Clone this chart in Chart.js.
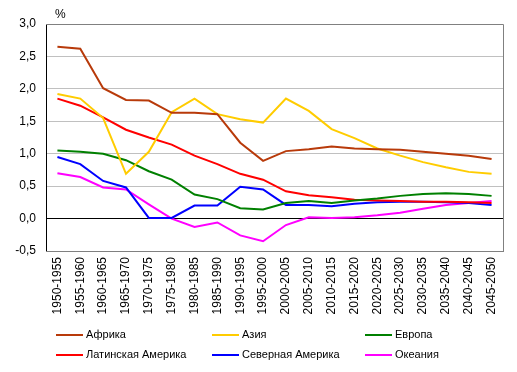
<!DOCTYPE html>
<html>
<head>
<meta charset="utf-8">
<script src="https://cdn.jsdelivr.net/npm/chart.js@4"></script>
<style>
    html, body { margin: 0; padding: 0; background: #fff; }
    #wrap { width: 517px; height: 372px; }
</style>
</head>
<body>
<div id="wrap"><canvas id="growthChart" width="517" height="372"></canvas></div>
<script>
const periods = ['1950-1955', '1955-1960', '1960-1965', '1965-1970', '1970-1975', '1975-1980', '1980-1985',
    '1985-1990', '1990-1995', '1995-2000', '2000-2005', '2005-2010', '2010-2015', '2015-2020', '2020-2025',
    '2025-2030', '2030-2035', '2035-2040', '2040-2045', '2045-2050'];

const africa = [2.65, 2.62, 2.01, 1.83, 1.82, 1.63, 1.63, 1.61, 1.17, 0.89, 1.04, 1.07, 1.11, 1.08, 1.07, 1.06, 1.03, 1.00, 0.97, 0.92];
const asia = [1.92, 1.85, 1.55, 0.69, 1.03, 1.64, 1.85, 1.61, 1.53, 1.48, 1.85, 1.66, 1.38, 1.24, 1.08, 0.97, 0.87, 0.79, 0.72, 0.69];
const europe = [1.05, 1.03, 1.00, 0.90, 0.73, 0.60, 0.37, 0.30, 0.16, 0.14, 0.24, 0.27, 0.24, 0.28, 0.31, 0.35, 0.38, 0.39, 0.38, 0.35];
const latinAmerica = [1.85, 1.74, 1.56, 1.37, 1.25, 1.14, 0.97, 0.84, 0.69, 0.60, 0.42, 0.36, 0.33, 0.29, 0.28, 0.27, 0.26, 0.26, 0.25, 0.24];
const northAmerica = [0.95, 0.84, 0.58, 0.48, 0.01, 0.01, 0.20, 0.20, 0.49, 0.45, 0.21, 0.21, 0.19, 0.23, 0.25, 0.26, 0.26, 0.25, 0.24, 0.21];
const oceania = [0.70, 0.64, 0.48, 0.45, 0.22, 0.00, -0.13, -0.06, -0.26, -0.35, -0.10, 0.02, 0.01, 0.02, 0.05, 0.09, 0.15, 0.21, 0.24, 0.27];

const yTicks = [-0.5, 0, 0.5, 1, 1.5, 2, 2.5, 3];

const FONT = "'Liberation Sans', Arial, sans-serif";

function series(label, data, color) {
    return {
        label: label,
        data: data,
        borderColor: color,
        backgroundColor: color,
        borderWidth: 2,
        pointRadius: 0,
        tension: 0,
        fill: false
    };
}

// frame, "%" label and the 3-column legend
const extras = {
    id: 'extras',
    beforeDatasetsDraw(chart) {
        const a = chart.chartArea;
        const c = chart.ctx;
        c.save();
        c.strokeStyle = '#808080';
        c.lineWidth = 1;
        c.beginPath();
        c.moveTo(a.left, a.top + 0.5);
        c.lineTo(a.right + 0.5, a.top + 0.5);
        c.lineTo(a.right + 0.5, a.bottom + 0.5);
        c.lineTo(a.left, a.bottom + 0.5);
        c.stroke();
        c.restore();
    },
    afterDraw(chart) {
        const c = chart.ctx;
        c.save();
        c.font = '12px ' + FONT;
        c.fillStyle = '#000';
        c.textBaseline = 'middle';
        c.fillText('%', 55, 15);

        c.font = '11px ' + FONT;
        const cols = [56, 212, 365];
        const rows = [335, 355];
        chart.data.datasets.forEach(function(ds, i) {
            const x = cols[i % 3];
            const y = rows[Math.floor(i / 3)];
            c.strokeStyle = ds.borderColor;
            c.lineWidth = 2;
            c.beginPath();
            c.moveTo(x, y);
            c.lineTo(x + 27, y);
            c.stroke();
            c.fillStyle = '#000';
            c.fillText(ds.label, x + 30, y);
        });
        c.restore();
    }
};

const ctx = document.getElementById('growthChart').getContext('2d');
new Chart(ctx, {
    type: 'line',
    data: {
        labels: periods,
        datasets: [
            series('Африка', africa, '#B83A0A'),
            series('Азия', asia, '#FFCC00'),
            series('Европа', europe, '#008000'),
            series('Латинская Америка', latinAmerica, '#FF0000'),
            series('Северная Америка', northAmerica, '#0000FF'),
            series('Океания', oceania, '#FF00FF')
        ]
    },
    plugins: [extras],
    options: {
        responsive: false,
        animation: false,
        layout: {
            padding: { left: 0, top: 24, right: 14, bottom: 56 }
        },
        plugins: {
            legend: { display: false },
            tooltip: { enabled: false }
        },
        scales: {
            x: {
                offset: true,
                grid: { display: false, drawTicks: false },
                border: { color: '#808080' },
                ticks: {
                    minRotation: 90,
                    maxRotation: 90,
                    autoSkip: false,
                    padding: 6,
                    color: '#000',
                    font: { family: FONT, size: 12 }
                },
                afterFit: function(scale) { scale.height = 65; }
            },
            y: {
                min: -0.5,
                max: 3,
                afterBuildTicks: function(scale) {
                    scale.ticks = yTicks.map(v => ({ value: v }));
                },
                grid: {
                    drawTicks: false,
                    color: function(c) { return c.tick && c.tick.value === 0 ? '#000' : '#c0c0c0'; },
                    lineWidth: function(c) { return c.tick && c.tick.value === -0.5 ? 0 : 1; }
                },
                border: { color: '#000' },
                ticks: {
                    padding: 10,
                    color: '#000',
                    font: { family: FONT, size: 12 },
                    callback: function(v) { return v.toFixed(1).replace('.', ','); }
                },
                afterFit: function(scale) { scale.width = 46; }
            }
        }
    }
});
</script>
</body>
</html>
